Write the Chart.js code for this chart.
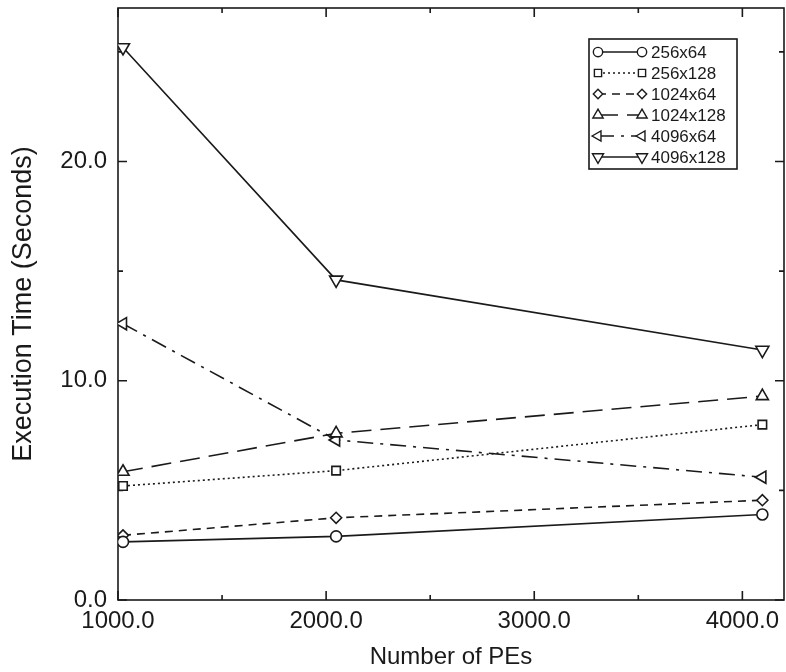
<!DOCTYPE html>
<html>
<head>
<meta charset="utf-8">
<script src="https://cdn.jsdelivr.net/npm/chart.js@4.4.0/dist/chart.umd.min.js"></script>
<style>
  html, body { margin: 0; padding: 0; background: #fff; }
  #wrap { position: relative; width: 786px; height: 672px; }
</style>
</head>
<body>
<div id="wrap"><canvas id="timeChart"></canvas></div>
<script>
// number of processing elements on the x axis
const peCounts = [1024, 2048, 4096];

// problem sizes, one line each
const seriesNames = ['256x64', '256x128', '1024x64', '1024x128', '4096x64', '4096x128'];

// execution time in seconds
const time256x64   = [2.65, 2.9, 3.9];
const time256x128  = [5.2, 5.9, 8.0];
const time1024x64  = [2.95, 3.75, 4.55];
const time1024x128 = [5.85, 7.6, 9.3];
const time4096x64  = [12.6, 7.3, 5.6];
const time4096x128 = [25.2, 14.6, 11.4];

// tick positions and which of them carry a label
const xTicks = [1000, 1500, 2000, 2500, 3000, 3500, 4000];
const xLabelled = [1000, 2000, 3000, 4000];
const yTicks = [0, 5, 10, 15, 20, 25];
const yLabelled = [0, 10, 20];

const ink = '#1a1a1a';
const font = '"Liberation Sans", Arial, Helvetica, sans-serif';

function series(label, values, style, rotation, dash, radius) {
    return {
        label: label,
        data: peCounts.map((pe, i) => ({x: pe, y: values[i]})),
        borderColor: ink,
        borderWidth: 1.6,
        borderDash: dash,
        pointStyle: style,
        pointRotation: rotation,
        pointRadius: radius,
        pointBorderWidth: 1.6,
        pointBorderColor: ink,
        pointBackgroundColor: '#fff',
        fill: false,
        tension: 0
    };
}

const datasets = [
    series(seriesNames[0], time256x64,   'circle',   0,   [],              5.5),
    series(seriesNames[1], time256x128,  'rect',     0,   [2, 3],          6),
    series(seriesNames[2], time1024x64,  'rectRot',  0,   [8, 6],          5.5),
    series(seriesNames[3], time1024x128, 'triangle', 0,   [20, 9],         7),
    series(seriesNames[4], time4096x64,  'triangle', 270, [16, 7, 3, 7],   7),
    series(seriesNames[5], time4096x128, 'triangle', 180, [],              7.5)
];

// box round the plot with inward tick marks on all four sides
const framePlugin = {
    id: 'frame',
    beforeDatasetsDraw(chart) {
        const {ctx, chartArea: a, scales} = chart;
        ctx.save();
        ctx.strokeStyle = ink;
        ctx.lineWidth = 1.6;
        ctx.strokeRect(a.left, a.top, a.right - a.left, a.bottom - a.top);
        ctx.beginPath();
        xTicks.forEach(v => {
            const px = scales.x.getPixelForValue(v);
            const len = xLabelled.includes(v) ? 9 : 5;
            ctx.moveTo(px, a.bottom); ctx.lineTo(px, a.bottom - len);
            ctx.moveTo(px, a.top); ctx.lineTo(px, a.top + len);
        });
        yTicks.forEach(v => {
            const py = scales.y.getPixelForValue(v);
            const len = yLabelled.includes(v) ? 9 : 5;
            ctx.moveTo(a.left, py); ctx.lineTo(a.left + len, py);
            ctx.moveTo(a.right, py); ctx.lineTo(a.right - len, py);
        });
        ctx.stroke();
        ctx.restore();
    }
};

// legend box with marker - line - marker samples
const legendPlugin = {
    id: 'boxLegend',
    afterDraw(chart) {
        const ctx = chart.ctx;
        const boxX = 589, boxY = 39, boxW = 148, boxH = 130;
        const rowGap = 21, firstRow = 52;
        const symA = 598, symB = 642, textX = 651;
        ctx.save();
        ctx.fillStyle = '#fff';
        ctx.fillRect(boxX, boxY, boxW, boxH);
        ctx.strokeStyle = ink;
        ctx.lineWidth = 1.6;
        ctx.strokeRect(boxX, boxY, boxW, boxH);
        chart.data.datasets.forEach((ds, i) => {
            const y = firstRow + i * rowGap;
            ctx.beginPath();
            ctx.setLineDash(ds.borderDash);
            ctx.moveTo(symA, y);
            ctx.lineTo(symB, y);
            ctx.stroke();
            ctx.setLineDash([]);
            ctx.fillStyle = '#fff';
            ctx.strokeStyle = ink;
            ctx.lineWidth = 1.4;
            const opts = {pointStyle: ds.pointStyle, rotation: ds.pointRotation,
                          radius: ds.pointRadius * 0.85, borderWidth: 1.4};
            Chart.helpers.drawPoint(ctx, opts, symA, y);
            Chart.helpers.drawPoint(ctx, opts, symB, y);
            ctx.fillStyle = ink;
            ctx.font = '17px ' + font;
            ctx.textAlign = 'left';
            ctx.textBaseline = 'middle';
            ctx.fillText(ds.label, textX, y + 1);
            ctx.lineWidth = 1.6;
        });
        ctx.restore();
    }
};

const ctx = document.getElementById('timeChart').getContext('2d');
const timeChart = new Chart(ctx, {
    type: 'line',
    data: {datasets: datasets},
    plugins: [framePlugin, legendPlugin],
    options: {
        responsive: true,
        maintainAspectRatio: false,
        animation: false,
        layout: {autoPadding: false, padding: {left: 0, right: 2, top: 8, bottom: 0}},
        plugins: {
            legend: {display: false},
            tooltip: {enabled: false}
        },
        scales: {
            x: {
                type: 'linear',
                min: 1000,
                max: 4200,
                grid: {display: false, drawTicks: false},
                border: {display: false},
                afterBuildTicks: scale => { scale.ticks = xTicks.map(v => ({value: v})); },
                afterFit: scale => {
                    scale.height = 72;
                    scale.paddingLeft = 0;
                    scale.paddingRight = 0;
                },
                ticks: {
                    padding: 7,
                    maxRotation: 0,
                    autoSkip: false,
                    color: ink,
                    font: {family: font, size: 24},
                    callback: v => xLabelled.includes(v) ? v.toFixed(1) : ''
                },
                title: {
                    display: true,
                    text: 'Number of PEs',
                    color: ink,
                    font: {family: font, size: 24},
                    padding: {top: 0, bottom: 0}
                }
            },
            y: {
                type: 'linear',
                min: 0,
                max: 27,
                grid: {display: false, drawTicks: false},
                border: {display: false},
                afterBuildTicks: scale => { scale.ticks = yTicks.map(v => ({value: v})); },
                afterFit: scale => {
                    scale.width = 118;
                    scale.paddingTop = 0;
                    scale.paddingBottom = 0;
                },
                ticks: {
                    padding: 11,
                    autoSkip: false,
                    color: ink,
                    font: {family: font, size: 24},
                    callback: v => yLabelled.includes(v) ? v.toFixed(1) : ''
                },
                title: {
                    display: true,
                    text: 'Execution Time (Seconds)',
                    color: ink,
                    font: {family: font, size: 27},
                    padding: {top: 7, bottom: 0}
                }
            }
        }
    }
});
</script>
</body>
</html>
